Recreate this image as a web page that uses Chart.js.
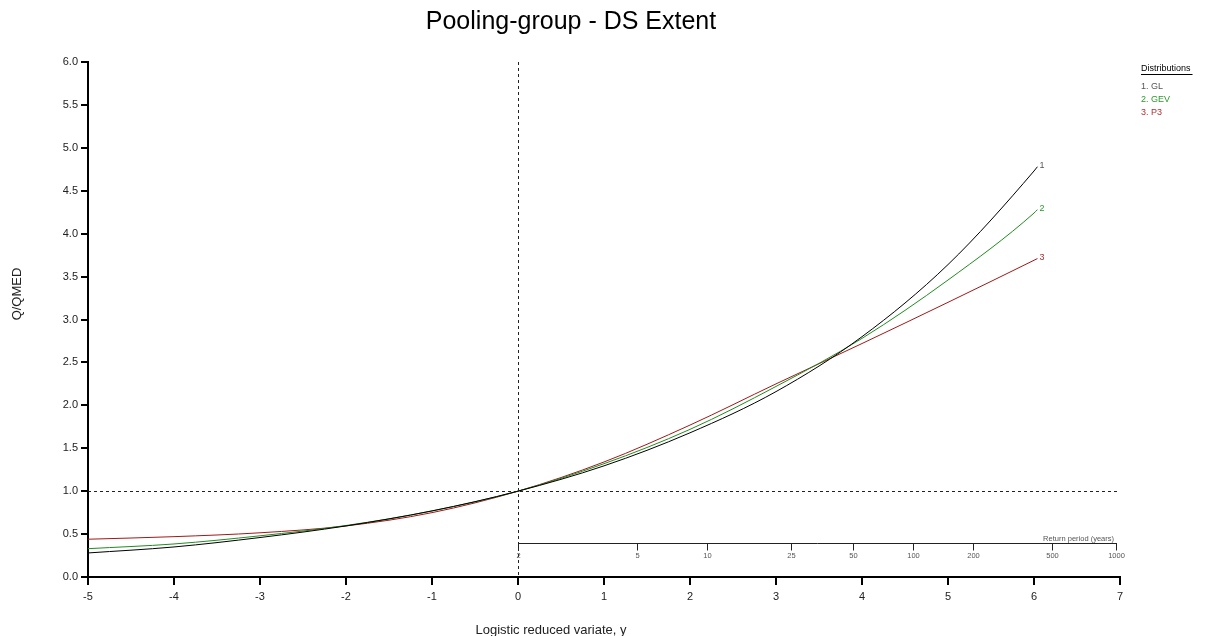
<!DOCTYPE html>
<html>
<head>
<meta charset="utf-8">
<title>Pooling-group - DS Extent</title>
<script src="https://cdn.jsdelivr.net/npm/chart.js@4/dist/chart.umd.min.js"></script>
<style>
  html, body { margin: 0; padding: 0; background: #fff; }
</style>
</head>
<body>
<canvas id="growthChart" width="1206" height="636"></canvas>
<script>
// logistic reduced variate, y
const variate = [-5, -4, -3, -2, -1, 0, 1, 2, 3, 4, 5, 6, 6.04];
// Q/QMED growth curves
const glCurve = [0.28, 0.35, 0.46, 0.595, 0.77, 1.0, 1.295, 1.68, 2.16, 2.80, 3.64, 4.73, 4.78];
const gevCurve = [0.33, 0.385, 0.48, 0.60, 0.77, 1.0, 1.32, 1.72, 2.22, 2.78, 3.46, 4.24, 4.28];
const p3Curve = [0.44, 0.47, 0.515, 0.595, 0.75, 1.0, 1.34, 1.77, 2.25, 2.72, 3.20, 3.69, 3.71];
const returnPeriods = [2, 5, 10, 25, 50, 100, 200, 500, 1000];
const seriesNames = ['GL', 'GEV', 'P3'];
const seriesColors = ['#000000', '#1e8c1e', '#a01818'];
const labelColors = ['#555555', '#2a9a2a', '#b03030'];

const FONT = "'Liberation Sans', Arial, sans-serif";

function toPoints(values) {
  return variate.map(function (v, i) { return { x: v, y: values[i] }; });
}

// extra drawing: title, axis titles, reference lines, return period axis, legend
const extras = {
  id: 'extras',
  beforeDatasetsDraw: function (chart) {
    const c = chart.ctx, xs = chart.scales.x, ys = chart.scales.y, a = chart.chartArea;
    c.save();
    c.strokeStyle = '#222';
    c.lineWidth = 1;
    c.setLineDash([3, 3]);
    const x0 = Math.round(xs.getPixelForValue(0)) + 0.5;
    c.beginPath(); c.moveTo(x0, a.top); c.lineTo(x0, a.bottom); c.stroke();
    const y1 = Math.round(ys.getPixelForValue(1)) + 0.5;
    c.beginPath(); c.moveTo(a.left, y1); c.lineTo(a.right, y1); c.stroke();
    c.setLineDash([]);

    // return period axis
    const ry = Math.round(ys.getPixelForValue(0.4)) + 0.5;
    const xEnd = xs.getPixelForValue(Math.log(1000 - 1)) + 4;
    c.strokeStyle = '#222';
    c.beginPath(); c.moveTo(x0, ry); c.lineTo(xEnd + 1, ry); c.stroke();
    c.font = '7.5px ' + FONT;
    c.fillStyle = '#555';
    c.textAlign = 'center';
    c.textBaseline = 'top';
    returnPeriods.forEach(function (t, i) {
      let px = Math.round(xs.getPixelForValue(Math.log(t - 1))) + 0.5;
      if (i === returnPeriods.length - 1) px = Math.round(xEnd) + 0.5;
      c.beginPath(); c.moveTo(px, ry); c.lineTo(px, ry + 7); c.stroke();
      c.fillText(String(t), px, ry + 9);
    });
    c.textAlign = 'right';
    c.textBaseline = 'bottom';
    c.fillText('Return period (years)', xEnd - 2, ry - 1);
    c.restore();
  },
  afterDraw: function (chart) {
    const c = chart.ctx, xs = chart.scales.x, ys = chart.scales.y;
    c.save();
    c.fillStyle = '#000';
    c.textAlign = 'center';
    c.textBaseline = 'middle';
    c.font = '25px ' + FONT;
    c.fillText('Pooling-group - DS Extent', 571, 22);
    c.font = '13px ' + FONT;
    c.fillStyle = '#222';
    c.fillText('Logistic reduced variate, y', 551, 630);
    c.save();
    c.translate(17, 294);
    c.rotate(-Math.PI / 2);
    c.fillText('Q/QMED', 0, 0);
    c.restore();

    // curve end numbers
    c.font = '9px ' + FONT;
    c.textAlign = 'left';
    const last = variate.length - 1;
    [glCurve, gevCurve, p3Curve].forEach(function (vals, i) {
      c.fillStyle = labelColors[i];
      c.fillText(String(i + 1), xs.getPixelForValue(variate[last]) + 2, ys.getPixelForValue(vals[last]) - 1);
    });

    // legend
    c.fillStyle = '#000';
    c.textBaseline = 'alphabetic';
    c.fillText('Distributions', 1141, 71);
    const w = c.measureText('Distributions').width;
    c.strokeStyle = '#000';
    c.lineWidth = 1;
    c.beginPath(); c.moveTo(1141, 74.5); c.lineTo(1141 + w + 2, 74.5); c.stroke();
    seriesNames.forEach(function (n, i) {
      c.fillStyle = labelColors[i];
      c.fillText((i + 1) + '. ' + n, 1141, 89 + i * 13);
    });
    c.restore();
  }
};

const ctx = document.getElementById('growthChart').getContext('2d');
const growthChart = new Chart(ctx, {
  type: 'line',
  data: {
    datasets: [glCurve, gevCurve, p3Curve].map(function (vals, i) {
      return {
        label: seriesNames[i],
        data: toPoints(vals),
        borderColor: seriesColors[i],
        borderWidth: 1,
        pointRadius: 0,
        fill: false,
        cubicInterpolationMode: 'monotone'
      };
    })
  },
  options: {
    responsive: false,
    devicePixelRatio: 1,
    animation: false,
    layout: { padding: { top: 62, right: 86, bottom: 0, left: 0 } },
    plugins: {
      legend: { display: false },
      title: { display: false },
      tooltip: { enabled: false }
    },
    scales: {
      x: {
        type: 'linear',
        min: -5,
        max: 7,
        ticks: { stepSize: 1, color: '#222', padding: 5, font: { family: FONT, size: 11 } },
        grid: { drawOnChartArea: false, drawTicks: true, tickLength: 8, color: '#000', lineWidth: 2 },
        border: { display: true, color: '#000', width: 2 },
        afterFit: function (scale) { scale.height = 59; }
      },
      y: {
        min: 0,
        max: 6,
        ticks: {
          stepSize: 0.5,
          color: '#222',
          padding: 3,
          font: { family: FONT, size: 11 },
          callback: function (v) { return v.toFixed(1); }
        },
        grid: { drawOnChartArea: false, drawTicks: true, tickLength: 7, color: '#000', lineWidth: 2 },
        border: { display: true, color: '#000', width: 2 },
        afterFit: function (scale) { scale.width = 88; }
      }
    }
  },
  plugins: [extras]
});
</script>
</body>
</html>
